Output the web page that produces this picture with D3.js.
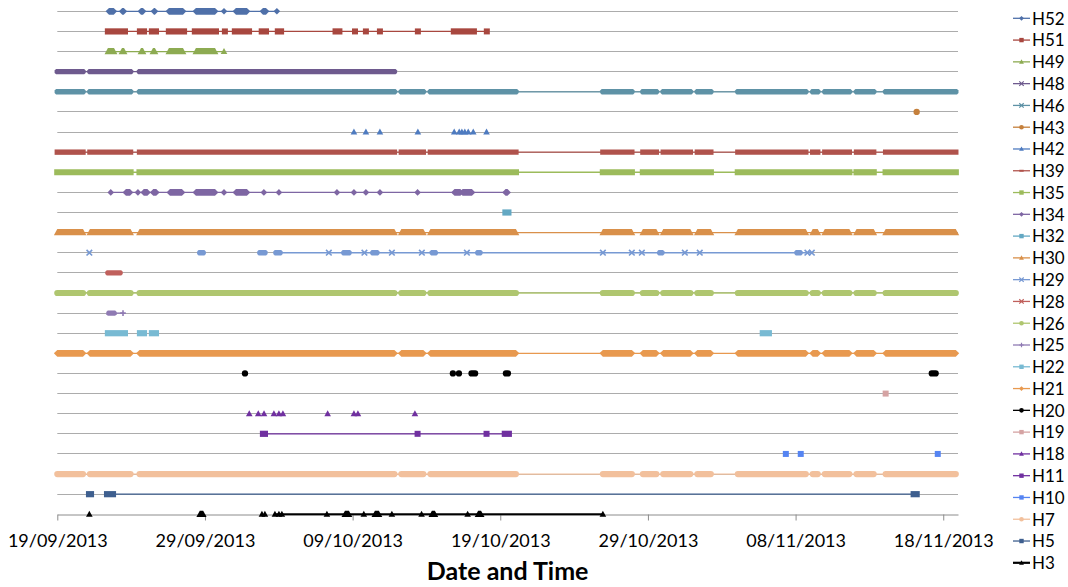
<!DOCTYPE html>
<html><head><meta charset="utf-8">
<script src="https://cdn.jsdelivr.net/npm/d3@7"></script>
<style>
body{margin:0;background:#fff}
svg{display:block}
text{font-family:Lato,"Open Sans",sans-serif}
</style>
</head><body>
<svg id="c" width="1068" height="587"></svg>
<script>
// ---------- data ----------
const seriesNames = ["H52","H51","H49","H48","H46","H43","H42","H39","H35","H34","H32","H30","H29","H28","H26","H25","H22","H21","H20","H19","H18","H11","H10","H7","H5","H3"];
const tickLabels = ["19/09/2013","29/09/2013","09/10/2013","19/10/2013","29/10/2013","08/11/2013","18/11/2013"];
const axisStart = "19/09/2013", axisEnd = "19/11/2013";
const axisTitle = "Date and Time";

// readings in days since 19/09/2013: a number = single reading, [start, end] = continuous run of readings
const H52 = [[3.50,3.82],[4.40,4.50],[5.67,5.80],[6.55,6.61],[7.56,8.51],[9.39,10.68],11.29,[12.10,12.84],[13.93,14.13],14.87];
const H51 = [[3.43,4.58],[5.60,5.87],[6.41,6.68],[7.56,8.58],[9.32,10.74],11.35,[12.03,12.98],[13.85,14.13],[14.94,15.15],[18.85,19.10],20.16,20.90,21.85,24.42,[26.86,28.21],29.09];
const H49 = [[3.43,3.84],[4.38,4.52],[5.67,5.80],[6.48,6.61],[7.56,8.51],[9.39,10.68],11.29];
const H48 = [[0,1.74],[2.21,4.96],[5.57,22.83]];
const H46 = [[0,1.74],[2.21,4.96],[5.57,22.83],[23.30,24.79],[25.27,31.06],[36.95,38.91],[39.66,40.57],[41.04,42.87],[43.35,44.26],[46.09,50.69],[51.16,51.50],[51.98,53.64],[54.13,55.29],[56.10,60.85]];
const H43 = [58.20];
const H42 = [20.09,20.90,21.85,24.42,26.88,27.22,27.40,27.60,27.83,28.17,29.07];
const H39 = [[0,1.74],[2.21,4.96],[5.57,22.83],[23.30,24.79],[25.27,31.06],[36.95,38.91],[39.66,40.57],[41.04,42.87],[43.35,44.26],[46.09,50.69],[51.16,51.50],[51.98,53.64],[54.13,55.29],[56.10,60.85]];
const H35 = [[0,4.96],[5.57,31.06],[36.95,38.91],[39.66,44.26],[46.09,53.64],[54.13,55.29],[56.10,60.85]];
const H34 = [3.62,[4.65,4.92],5.46,[5.86,6.10],[6.50,6.70],[7.63,8.44],[9.39,10.68],11.29,[12.10,12.84],13.99,15.01,18.94,20.09,20.90,21.85,24.40,[26.90,27.30],[27.45,28.08],[30.36,30.49]];
const H32 = [[30.35,30.55]];
const H30 = [[0,1.74],[2.21,4.96],[5.57,22.83],[23.30,24.79],[25.27,31.06],[36.95,38.91],[39.66,40.57],[41.04,42.87],[43.35,44.26],[46.09,50.69],[51.16,51.50],[51.98,53.64],[54.13,55.29],[56.10,60.85]];
const H29 = [2.17,[9.65,9.88],[13.72,14.06],[14.81,15.08],18.39,[19.41,19.75],20.80,[21.37,21.64],22.66,24.69,[25.40,25.60],27.74,[28.48,28.62],36.95,38.91,39.59,[40.80,40.94],42.50,43.51,[50.10,50.30],50.80,51.10];
const H28 = [[3.43,4.25]];
const H26 = [[0,1.74],[2.21,4.96],[5.57,22.83],[23.30,24.79],[25.27,31.06],[36.95,38.91],[39.66,40.57],[41.04,42.87],[43.35,44.26],[46.09,50.69],[51.16,51.50],[51.98,53.64],[54.13,55.29],[56.10,60.85]];
const H25 = [[3.50,3.84],4.45];
const H22 = [[3.43,4.58],[5.60,5.87],[6.41,6.68],[47.78,48.19]];
const H21 = [[0,1.74],[2.21,4.96],[5.57,22.83],[23.30,24.79],[25.27,31.06],[36.95,38.91],[39.66,40.57],[41.04,42.87],[43.35,44.26],[46.09,50.69],[51.16,51.50],[51.98,53.64],[54.13,55.29],[56.10,60.85]];
const H20 = [12.71,26.79,27.20,[28.05,28.30],[30.38,30.52],[59.22,59.49]];
const H19 = [56.10];
const H18 = [13.00,13.61,14.00,14.67,15.01,15.28,18.31,20.09,20.36,24.22];
const H11 = [[13.93,14.06],24.40,29.07,[30.31,30.58]];
const H10 = [49.34,50.35,59.63];
const H7  = [[0,1.74],[2.21,4.96],[5.57,22.83],[23.30,24.79],[25.27,31.06],[36.95,38.91],[39.66,40.57],[41.04,42.87],[43.35,44.26],[46.09,50.69],[51.16,51.50],[51.98,53.64],[54.13,55.29],[56.10,60.85]];
const H5  = [[2.15,2.28],[3.37,3.77],[58.00,58.20]];
const H3  = [2.17,[9.65,9.88],13.86,14.06,14.74,15.01,15.21,18.26,[19.48,19.75],20.76,[21.51,21.78],22.66,24.67,[25.37,25.57],27.79,[28.50,28.70],36.95];

// days covered by the connecting line of each series
const lineSpans = [
  ["H52",3.50,14.87],["H51",3.43,29.09],["H49",3.43,11.29],["H48",0,22.83],["H46",0,60.85],
  ["H39",0,60.85],["H35",0,60.85],["H34",3.62,30.49],["H30",0,60.85],["H29",14.81,51.10],
  ["H26",0,60.85],["H25",3.50,4.45],["H21",0,60.85],["H11",13.93,30.58],["H7",0,60.85],
  ["H5",3.37,58.00],["H3",14.74,36.95]
];

// ---------- styles ----------
const seriesData = {H52,H51,H49,H48,H46,H43,H42,H39,H35,H34,H32,H30,H29,H28,H26,H25,H22,H21,H20,H19,H18,H11,H10,H7,H5,H3};
const colors = {H52:"#4f70a9",H51:"#a8473f",H49:"#8dab52",H48:"#6e5a8e",H46:"#5e92a6",H43:"#c5803c",H42:"#4e7bc0",H39:"#b0534c",
  H35:"#9cbb5b",H34:"#7e66a3",H32:"#63a8c3",H30:"#d9904a",H29:"#7799d3",H28:"#c0605c",H26:"#afc66f",H25:"#8f7ab3",
  H22:"#78bad3",H21:"#e8994f",H20:"#000000",H19:"#d5a3a3",H18:"#7030a0",H11:"#7030a0",H10:"#5584f2",H7:"#f2c09c",H5:"#3e5f8f",H3:"#000000"};
const markers = {H52:"diamond",H51:"square",H49:"triangle",H48:"x",H46:"x",H43:"circle",H42:"triangle",H39:"dash",H35:"square",
  H34:"diamond",H32:"square",H30:"triangle",H29:"x",H28:"x",H26:"circle",H25:"plus",H22:"square",H21:"diamond",H20:"circle",
  H19:"square",H18:"triangle",H11:"square",H10:"square",H7:"circle",H5:"square",H3:"triangle"};

function markerPath(type, s){
  switch(type){
    case "diamond": return `M0,${-s*1.1}L${s*1.1},0L0,${s*1.1}L${-s*1.1},0Z`;
    case "square": return `M${-s},${-s}h${2*s}v${2*s}h${-2*s}Z`;
    case "triangle": return `M0,${-s*1.15}L${s*1.1},${s*0.85}L${-s*1.1},${s*0.85}Z`;
    case "circle": return d3.symbol(d3.symbolCircle, Math.PI*s*s*1.1)();
    case "dash": return `M${-s},${-s*0.45}h${2*s}v${s*0.9}h${-2*s}Z`;
    case "x": return `M${-s},${-s}L${s},${s}M${s},${-s}L${-s},${s}`;
    case "plus": return `M${-s},0H${s}M0,${-s}V${s}`;
  }
}
// shape of a run of overlapping markers between pixel positions a and b
function runPath(type, a, b, yy, s){
  switch(type){
    case "triangle": return `M${a-1.1*s},${yy+0.85*s}L${a},${yy-1.15*s}L${b},${yy-1.15*s}L${b+1.1*s},${yy+0.85*s}Z`;
    case "diamond": return `M${a-1.1*s},${yy}L${a},${yy-1.1*s}L${b},${yy-1.1*s}L${b+1.1*s},${yy}L${b},${yy+1.1*s}L${a},${yy+1.1*s}Z`;
    case "square": case "dash": return `M${a-s},${yy-s}H${b+s}V${yy+s}H${a-s}Z`;
    case "circle": return `M${a},${yy-s}H${b}A${s},${s} 0 0 1 ${b},${yy+s}H${a}A${s},${s} 0 0 1 ${a},${yy-s}Z`;
    default: { const c = s*0.55; return `M${a-s},${yy-s+c}L${a-s+c},${yy-s}H${b+s-c}L${b+s},${yy-s+c}V${yy+s-c}L${b+s-c},${yy+s}H${a-s+c}L${a-s},${yy+s-c}Z`; }
  }
}
const strokeMarker = t => t==="x" || t==="plus";

// ---------- chart ----------
const svg = d3.select("#c");
const parse = d3.utcParse("%d/%m/%Y");
const t0 = parse(axisStart), t1 = parse(axisEnd);
const toDate = d => new Date(t0.getTime() + d*864e5);
const left = 57.3, right = 958;
const x = d3.scaleUtc().domain([t0,t1]).range([left,right]);
const y = d3.scalePoint().domain(seriesNames).range([11.3,514.3]);
const ly = d3.scalePoint().domain(seriesNames).range([18.3,562.8]);

// gridlines
svg.append("g").selectAll("line").data(seriesNames.slice(0,-1)).join("line")
  .attr("x1",left).attr("x2",right)
  .attr("y1",d=>Math.floor(y(d))+0.5).attr("y2",d=>Math.floor(y(d))+0.5)
  .attr("stroke","#acacac").attr("stroke-width",1);

// axis
const axisY = Math.floor(y("H3"))+0.5;
const ax = svg.append("g").attr("transform",`translate(0,${axisY})`)
  .call(d3.axisBottom(x).tickValues(tickLabels.map(parse)).tickFormat(d3.utcFormat("%d/%m/%Y"))
    .tickSize(6).tickSizeOuter(0).tickPadding(14));
ax.select(".domain").attr("stroke","#8c8c8c");
ax.selectAll(".tick line").attr("stroke","#8c8c8c");
ax.selectAll(".tick text").attr("font-size",18).attr("font-family","Lato").attr("fill","#000");

// connecting lines
svg.append("g").selectAll("line").data(lineSpans).join("line")
  .attr("x1",d=>x(toDate(d[1]))).attr("x2",d=>x(toDate(d[2])))
  .attr("y1",d=>y(d[0])).attr("y2",d=>y(d[0]))
  .attr("stroke",d=>colors[d[0]]).attr("stroke-width",d=>d[0]==="H3"?2:1.3);

// readings
seriesNames.forEach(name=>{
  const g = svg.append("g");
  const col = colors[name], yy = y(name), mk = markers[name];
  const s = (mk==="x"||mk==="plus"||mk==="dash") ? 2.7 : 3.1;
  seriesData[name].forEach(v=>{
    if (Array.isArray(v)) {
      const xa = x(toDate(v[0])), xb = x(toDate(v[1]));
      g.append("path").attr("d",runPath(mk, xa, xb, yy, s)).attr("fill",col);
    } else {
      const p = g.append("path").attr("d",markerPath(mk, strokeMarker(mk)?2.8:3))
        .attr("transform",`translate(${x(toDate(v))},${yy})`);
      if (strokeMarker(mk)) p.attr("fill","none").attr("stroke",col).attr("stroke-width",1.6);
      else p.attr("fill",col);
    }
  });
});

// legend
const lg = svg.append("g");
seriesNames.forEach(name=>{
  const yy = ly(name), col = colors[name], mk = markers[name];
  lg.append("line").attr("x1",1013).attr("x2",1030).attr("y1",yy).attr("y2",yy)
    .attr("stroke",col).attr("stroke-width",name==="H3"?2.2:1.3);
  const p = lg.append("path").attr("d",markerPath(mk,2.2)).attr("transform",`translate(1021.5,${yy})`);
  if (strokeMarker(mk)) p.attr("fill","none").attr("stroke",col).attr("stroke-width",1.2);
  else p.attr("fill",col);
  lg.append("text").attr("x",1032).attr("y",yy+6.3).attr("font-size",17).attr("fill","#000").text(name);
});

// axis title
svg.append("text").attr("x",(left+right)/2).attr("y",580).attr("text-anchor","middle")
  .attr("font-size",25).attr("font-weight","bold").attr("fill","#000").text(axisTitle);
</script>
</body></html>
